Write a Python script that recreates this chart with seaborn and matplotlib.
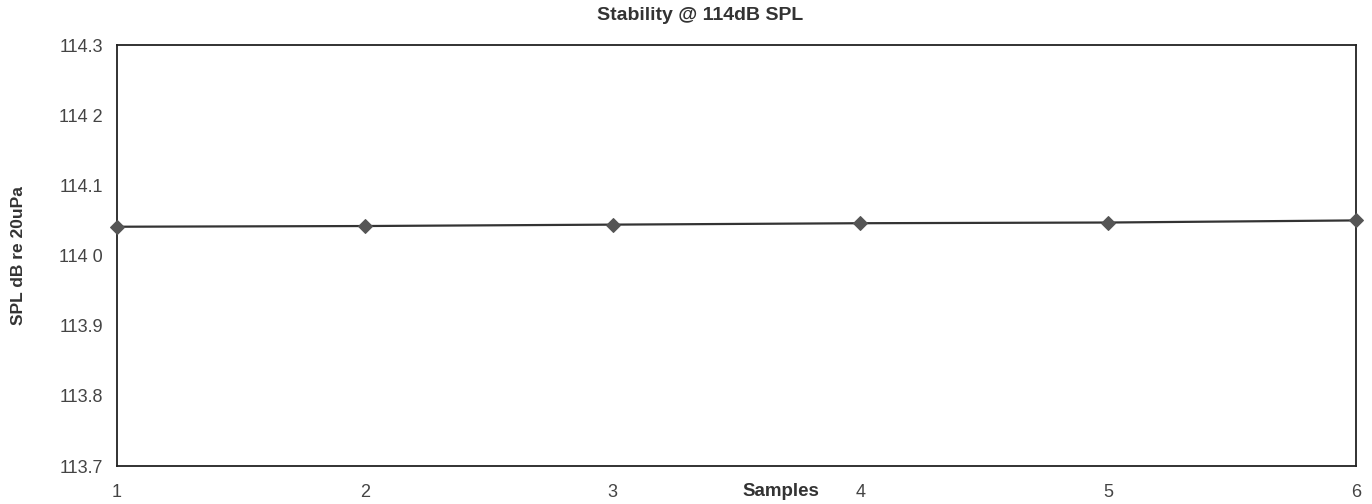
import matplotlib
matplotlib.use("Agg")
import matplotlib.pyplot as plt
import seaborn as sns
import pandas as pd

samples = [1, 2, 3, 4, 5, 6]
spl = [114.041, 114.042, 114.044, 114.046, 114.047, 114.050]
y_ticks = [113.7, 113.8, 113.9, 114.0, 114.1, 114.2, 114.3]
y_tick_labels = ["113.7", "113.8", "113.9", "114 0", "114.1", "114 2", "114.3"]
x_tick_labels = ["1", "2", "3", "4", "5", "6"]

sns.set_theme(style="white")
plt.rcParams['font.family'] = ['Liberation Sans', 'DejaVu Sans']

df = pd.DataFrame({"Samples": samples, "SPL": spl})

fig = plt.figure(figsize=(13.72, 5.04), dpi=100)
ax = fig.add_axes([117/1372, 1-466/504, (1356-117)/1372, (466-45)/504])

sns.lineplot(data=df, x="Samples", y="SPL", ax=ax, color="#333333", linewidth=1.6,
             marker="D", markersize=7, markerfacecolor="#555555", markeredgecolor="#555555",
             clip_on=False, zorder=5)

ax.set_xlim(1, 6)
ax.set_ylim(113.7, 114.3)
ax.set_yticks(y_ticks)
ax.set_yticklabels(y_tick_labels, fontsize=13, color="#444444")
ax.set_xticks(samples)
ax.set_xticklabels(x_tick_labels, fontsize=13, color="#444444")
ax.tick_params(axis="x", length=0, pad=13)
ax.tick_params(axis="y", length=0, pad=10)

for s in ax.spines.values():
    s.set_visible(True)
    s.set_color("#222222")
    s.set_linewidth(1.3)

ax.set_xlabel("Samples", fontsize=13.5, fontweight="bold", color="#333333")
ax.xaxis.set_label_coords((781-117)/(1356-117), -(491-466)/(466-45))
ax.xaxis.label.set_va("center")
ax.set_ylabel("SPL dB re 20uPa", fontsize=12.5, fontweight="bold", color="#333333")
ax.yaxis.set_label_coords(-(117-19)/(1356-117), 0.5)
ax.yaxis.label.set_va("center")
ax.set_title("Stability @ 114dB SPL", fontsize=14, fontweight="bold", color="#333333", pad=18)
ax.title.set_x((700-117)/(1356-117))

fig.savefig("out.png", dpi=100)
